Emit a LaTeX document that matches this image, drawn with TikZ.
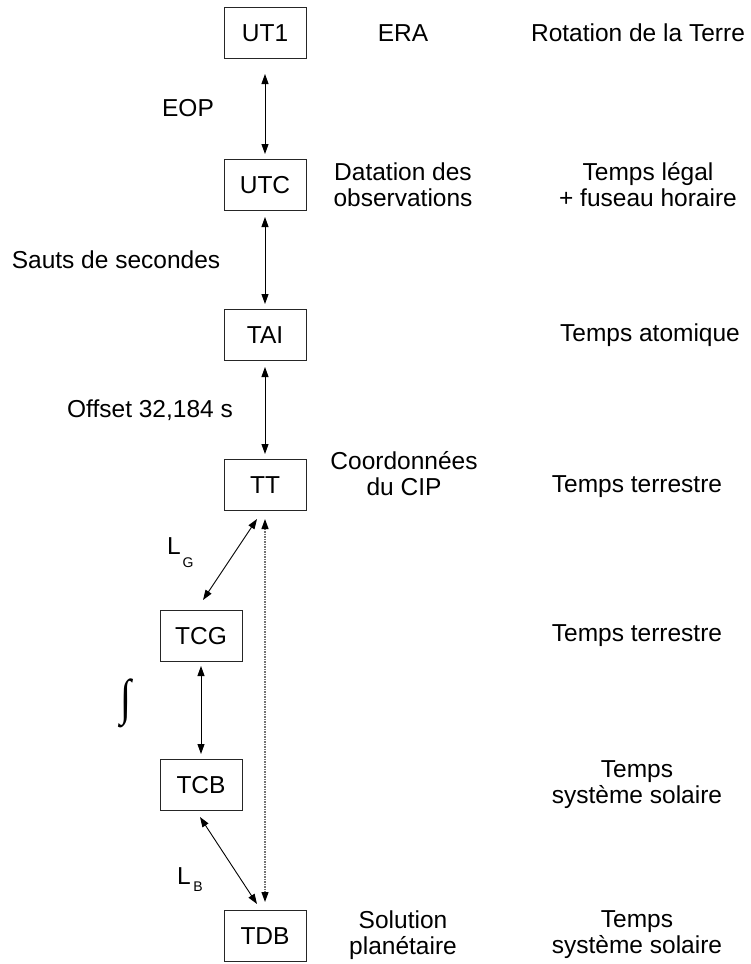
\documentclass[tikz,border=0pt]{standalone}
\usepackage{fontspec}
\setmainfont{Liberation Sans}
\newfontfamily\intfont{Liberation Serif}
\usetikzlibrary{arrows.meta,calc}
\begin{document}
\begin{tikzpicture}[x=1pt,y=-1pt,
  box/.style={draw=black!85,line width=1pt,minimum width=82pt,minimum height=51pt,inner sep=0pt,font=\fontsize{24.5}{26}\selectfont},
  lbl/.style={inner sep=0pt,align=center,font=\fontsize{24.5}{26}\selectfont},
  sublbl/.style={inner sep=0pt,font=\fontsize{14}{16}\selectfont},
  conn/.style={<->,line width=0.9pt,>={Triangle[length=10pt,width=7pt]}},
  dotconn/.style={<->,line width=1.2pt,draw=black!55,dash pattern=on 1.5pt off 1pt,>={Triangle[length=10pt,width=7pt,color=black]}}
]
\useasboundingbox (0,0) rectangle (750,964);
% boxes
\node[box] (UT1) at (265,33) {UT1};
\node[box] (UTC) at (265,185) {UTC};
\node[box] (TAI) at (265,335) {TAI};
\node[box] (TT)  at (265,485) {TT};
\node[box] (TCG) at (201,636) {TCG};
\node[box] (TCB) at (201,785) {TCB};
\node[box] (TDB) at (265,936) {TDB};
% middle column
\node[lbl] (era) at (403,33) {ERA};
\node[lbl] (dat) at (403,185) {Datation des\\observations};
\node[lbl] (coo) at (404,474) {Coordonnées\\du CIP};
\node[lbl] (sol) at (403,935) {Solution\\planétaire};
% right column
\node[lbl] (rot) at (638,33) {Rotation de la Terre};
\node[lbl] (leg) at (648,185) {Temps légal\\+ fuseau horaire};
\node[lbl] (ato) at (650,335) {Temps atomique};
\node[lbl] (ter1) at (637,487) {Temps terrestre};
\node[lbl] (ter2) at (637,636) {Temps terrestre};
\node[lbl] (sys1) at (637,785) {Temps\\système solaire};
\node[lbl] (sys2) at (637,935) {Temps\\système solaire};
% left labels
\node[lbl] (eop) at (188,108) {EOP};
\node[lbl] (sauts) at (116,260) {Sauts de secondes};
\node[lbl] (off) at (150,410) {Offset 32,184 s};
\node[lbl] (LG) at (174,546) {L};
\node[sublbl] (LGs) at (188,563) {G};
\node[lbl] (LB) at (184,876) {L};
\node[sublbl] (LBs) at (198,887) {B};
\node[inner sep=0pt,font=\intfont\fontsize{40}{44}\selectfont,yscale=1.25] (int) at (126,703) {∫};
% connectors
\draw[conn] ($(UT1.south)+(0,15)$) -- ($(UTC.north)+(0,-5)$);
\draw[conn] ($(UTC.south)+(0,6)$) -- ($(TAI.north)+(0,-5)$);
\draw[conn] ($(TAI.south)+(0,6)$) -- ($(TT.north)+(0,-5)$);
\draw[conn] ($(TT.south)+(-8,8)$) -- ($(TCG.north)+(2,-10)$);
\draw[dotconn] ($(TT.south)+(0,8)$) -- ($(TDB.north)+(0,-8)$);
\draw[conn] ($(TCG.south)+(0,4)$) -- ($(TCB.north)+(0,-5)$);
\draw[conn] ($(TCB.south)+(-1,6)$) -- ($(TDB.north)+(-8,-6)$);
\end{tikzpicture}
\end{document}
